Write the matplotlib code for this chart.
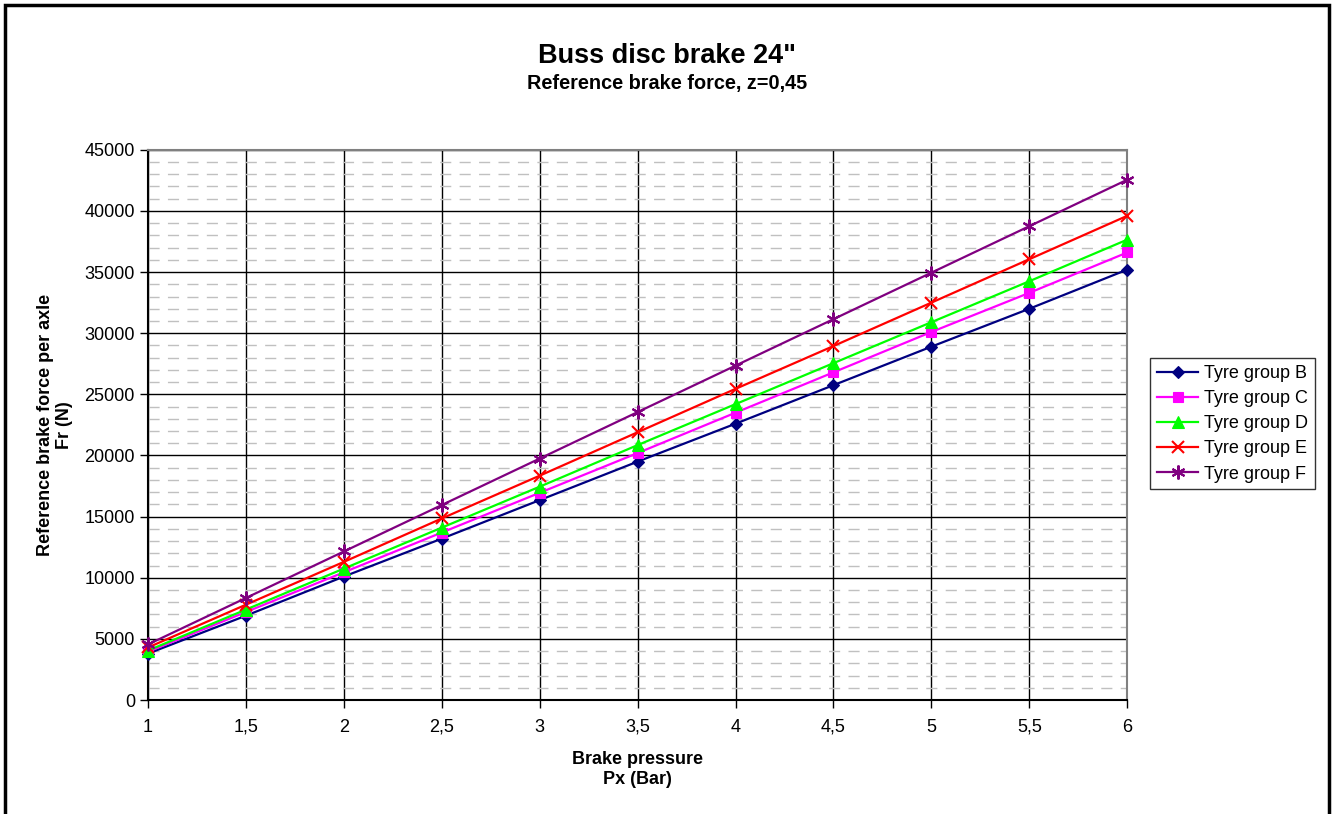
import matplotlib.pyplot as plt
from matplotlib.patches import Rectangle
from matplotlib.ticker import MultipleLocator

plt.rcParams["font.family"] = ["Liberation Sans", "DejaVu Sans"]

# -----------------------
# Data
# -----------------------
pressure = [1, 1.5, 2, 2.5, 3, 3.5, 4, 4.5, 5, 5.5, 6]
x_labels = ["1", "1,5", "2", "2,5", "3", "3,5", "4", "4,5", "5", "5,5", "6"]

group_b = [3800, 6900, 10100, 13200, 16350, 19500, 22600, 25750, 28900, 32000, 35200]
group_c = [3950, 7200, 10450, 13700, 16950, 20200, 23500, 26800, 30100, 33300, 36600]
group_d = [4050, 7400, 10750, 14100, 17450, 20850, 24200, 27550, 30900, 34250, 37650]
group_e = [4300, 7800, 11300, 14850, 18350, 21900, 25450, 28950, 32500, 36050, 39600]
group_f = [4550, 8350, 12150, 15950, 19750, 23550, 27350, 31150, 34950, 38750, 42550]

series = [
    ("Tyre group B", group_b, "#000080", "D", 6.5),
    ("Tyre group C", group_c, "#FF00FF", "s", 7.5),
    ("Tyre group D", group_d, "#00FF00", "^", 8.5),
    ("Tyre group E", group_e, "#FF0000", "x", 8.5),
    ("Tyre group F", group_f, "#800080", (6, 2, 0), 10),
]

# -----------------------
# Plot
# -----------------------
fig = plt.figure(figsize=(13.34, 8.14), dpi=100)
ax = fig.add_axes([0.111, 0.140, 0.734, 0.676])

for name, vals, col, mk, ms in series:
    ax.plot(pressure, vals, color=col, marker=mk, markersize=ms, lw=1.6,
            markeredgewidth=1.5 if mk in ("x", (6, 2, 0)) else 0.8,
            label=name, clip_on=False, zorder=3)

ax.set_xlim(1, 6)
ax.set_ylim(0, 45000)
ax.set_xticks(pressure)
ax.set_xticklabels(x_labels)
ax.yaxis.set_major_locator(MultipleLocator(5000))
ax.yaxis.set_minor_locator(MultipleLocator(1000))

ax.grid(True, which="major", color="black", lw=1)
ax.grid(True, which="minor", axis="y", color="#c0c0c0", lw=1, ls=(0, (8, 6)))
ax.set_axisbelow(True)

ax.tick_params(axis="both", which="major", labelsize=13, direction="out",
               length=5.5, width=1, color="black")
ax.tick_params(axis="x", which="major", pad=17.5)
ax.tick_params(axis="y", which="major", pad=4)
ax.tick_params(axis="y", which="minor", length=0)
for lbl in ax.get_xticklabels():
    lbl.set_verticalalignment("baseline")

for side in ["top", "right"]:
    ax.spines[side].set_color("#808080")
    ax.spines[side].set_linewidth(1.5)
for side in ["left", "bottom"]:
    ax.spines[side].set_color("black")
    ax.spines[side].set_linewidth(1.5)

ax.set_xlabel("Brake pressure\nPx (Bar)", fontsize=13, fontweight="bold",
              labelpad=11, linespacing=1.2)
ax.set_ylabel("Reference brake force per axle\nFr (N)", fontsize=13, fontweight="bold",
              labelpad=8, linespacing=1.2)

fig.text(0.5, 0.931, 'Buss disc brake 24"', ha="center", va="center",
         fontsize=19.5, fontweight="bold")
fig.text(0.5, 0.898, "Reference brake force, z=0,45", ha="center", va="center",
         fontsize=14.3, fontweight="bold")

leg = fig.legend(loc="upper left", bbox_to_anchor=(0.862, 0.560), fontsize=13,
                 frameon=True, fancybox=False, edgecolor="black", borderpad=0.38,
                 borderaxespad=0, handlelength=2.3, labelspacing=0.45,
                 handletextpad=0.3)
leg.get_frame().set_linewidth(1)

# outer chart frame (bottom edge falls outside the picture)
fig.patches.append(Rectangle((0.004, -0.02), 0.992, 1.014, transform=fig.transFigure,
                             fill=False, edgecolor="black", lw=2.5))

fig.savefig("out.png", dpi=100)
